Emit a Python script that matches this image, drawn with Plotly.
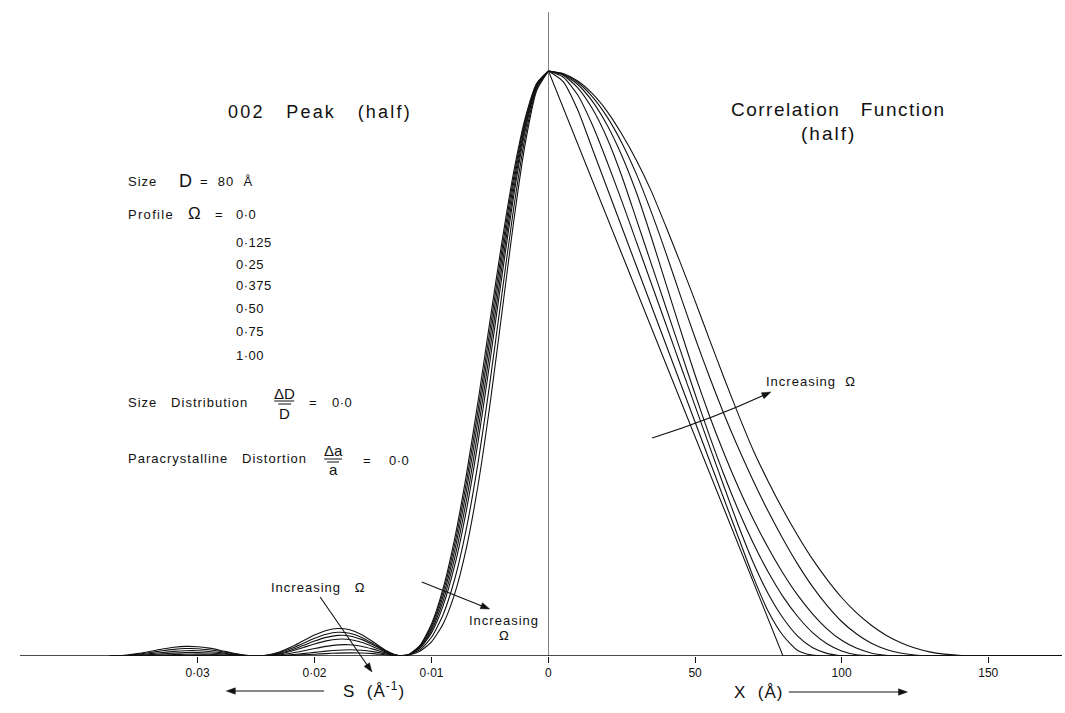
import plotly.graph_objects as go

W, H = 1065, 713

# ---------------- data ----------------
omega_values = ["0·0", "0·125", "0·25", "0·375", "0·50", "0·75", "1·00"]

# left half: 002 peak intensity vs S (1/Å)
s_values = [0, 0.001, 0.002, 0.003, 0.004, 0.005, 0.006, 0.007, 0.008, 0.009, 0.010,
            0.011, 0.012, 0.0125, 0.013, 0.014, 0.015, 0.016, 0.017, 0.018, 0.019,
            0.020, 0.021, 0.022, 0.023, 0.024, 0.025, 0.026, 0.027, 0.028, 0.029,
            0.030, 0.031, 0.032, 0.033, 0.034, 0.035, 0.036, 0.037, 0.0375]

peak_om_000 = [1, .979, .9187, .8244, .705, .5729, .438, .3118, .2025, .116, .0547, .0177, .0017, 0,
               .0015, .0109, .0243, .0367, .0449, .0471, .0437, .0358, .0256, .0153, .0069, .0017, 0,
               .0015, .005, .0095, .0134, .0159, .0164, .0149, .0119, .0081, .0045, .0017, .0002, 0]
peak_om_0125 = [1, .9777, .9138, .8151, .6917, .5573, .4224, .2983, .1923, .1095, .0515, .0167, .0018, .0002,
                .0014, .0098, .0215, .0322, .0388, .0405, .0372, .0302, .0213, .0127, .0056, .0014, 0,
                .0012, .0041, .0077, .0106, .0125, .0127, .0114, .009, .006, .0033, .0012, .0001, 0]
peak_om_025 = [1, .9763, .9088, .8054, .678, .5412, .4063, .2841, .1816, .1026, .048, .0157, .0018, .0003,
               .0013, .0088, .0193, .0284, .0343, .0352, .0318, .0255, .0178, .0104, .0045, .0011, 0,
               .0009, .0031, .0057, .0078, .009, .009, .0079, .0061, .004, .0021, .0008, .0001, 0]
peak_om_0375 = [1, .9748, .9031, .7945, .6624, .5229, .3877, .2678, .1691, .0945, .0438, .0143, .0018, .0004,
                .0012, .0075, .016, .0235, .0282, .0287, .0258, .0205, .0142, .0082, .0035, .0008, 0,
                .0006, .0021, .0039, .0052, .0058, .0057, .0049, .0037, .0024, .0012, .0004, 0, 0]
peak_om_050 = [1, .9732, .8973, .7832, .6463, .5038, .3685, .2508, .156, .0861, .0395, .0129, .0018, .0005,
               .0011, .0058, .0118, .0168, .0193, .019, .0165, .0128, .0086, .0048, .002, .0005, 0,
               .0004, .0012, .0022, .0029, .0032, .003, .0025, .0018, .0011, .0006, .0002, 0, 0]
peak_om_075 = [1, .9702, .8862, .7618, .6159, .4681, .3327, .2196, .1325, .071, .032, .0106, .0019, .0007,
               .0009, .004, .0075, .0098, .0106, .0099, .0083, .0062, .004, .0021, .0008, .0002, 0,
               .0002, .0005, .0008, .001, .001, .0009, .0007, .0005, .0003, .0001, 0, 0, 0]
peak_om_100 = [1, .9669, .8743, .7389, .5833, .4299, .2944, .1863, .1075, .0552, .0241, .0082, .0019, .0008,
               .0007, .0022, .004, .0051, .0054, .005, .0041, .003, .0019, .001, .0004, .0001, 0,
               0, .0001, .0002, .0002, .0002, .0002, .0001, 0, 0, 0, 0, 0, 0]

# right half: correlation function vs X (Å)
x_values = [0, 5, 10, 15, 20, 25, 30, 35, 40, 45, 50, 55, 60, 65, 70, 75, 80, 85, 90,
            95, 100, 105, 110, 115, 120, 125, 130, 135, 140, 145, 150, 175]

corr_om_000 = [1, .9375, .875, .8125, .75, .6875, .625, .5625, .5, .4375, .375, .3125, .25, .1875,
               .125, .0625, 0, 0, 0, 0, 0, 0, 0, 0, 0, 0, 0, 0, 0, 0, 0, 0]
corr_om_0125 = [1, .982, .9333, .8667, .8, .7333, .6667, .6, .5333, .4667, .4, .3333, .2667, .2,
                .1335, .076, .035, .0095, .0015, 0, 0, 0, 0, 0, 0, 0, 0, 0, 0, 0, 0, 0]
corr_om_025 = [1, .9897, .959, .9076, .845, .778, .708, .638, .568, .4975, .4275, .3575, .288,
               .22, .158, .106, .065, .034, .0145, .0045, .0005, 0, 0, 0, 0, 0, 0, 0, 0, 0, 0, 0]
corr_om_0375 = [1, .9928, .9713, .9354, .8851, .8206, .7463, .6716, .597, .5224, .4478, .3755, .308,
                .2465, .1915, .143, .1015, .0675, .0405, .021, .0085, .0022, .0003, 0, 0, 0, 0, 0, 0, 0, 0, 0]
corr_om_050 = [1, .9941, .9769, .948, .9077, .8557, .7922, .7171, .6374, .5578, .4804, .4095, .345,
               .286, .2325, .1845, .1415, .104, .0725, .0465, .0268, .0135, .0052, .0014, .0002, 0, 0, 0, 0, 0, 0, 0]
corr_om_075 = [1, .995, .9804, .9559, .9216, .8775, .8237, .76, .69, .616, .544, .476, .412,
               .353, .298, .247, .2, .157, .119, .0865, .059, .038, .0222, .0115, .005, .0017,
               .0004, 0, 0, 0, 0, 0]
corr_om_100 = [1, .9957, .9829, .9613, .9311, .8923, .8475, .7955, .735, .672, .607, .54, .474,
               .41, .35, .298, .25, .206, .166, .131, .1, .074, .053, .036, .023, .0135,
               .007, .0032, .0012, .0003, 0, 0]

peak_series = [peak_om_000, peak_om_0125, peak_om_025, peak_om_0375, peak_om_050, peak_om_075, peak_om_100]
corr_series = [corr_om_000, corr_om_0125, corr_om_025, corr_om_0375, corr_om_050, corr_om_075, corr_om_100]

s_ticks = [0.01, 0.02, 0.03]
s_tick_text = ["0·01", "0·02", "0·03"]
x_ticks = [0, 50, 100, 150]
x_tick_text = ["0", "50", "100", "150"]

# ---------------- layout geometry (pixels) ----------------
X_LEFT, X_ZERO, X_RIGHT = 17, 547, 1062
Y_BASE, Y_TOP = 656, 12
PX_PER_S = 11730.0
PX_PER_X = 2.94
PX_PER_Y = 585.0

FONT = "Liberation Sans, Arial, sans-serif"
INK = "#111111"

fig = go.Figure()

for i, vals in enumerate(peak_series):
    fig.add_trace(go.Scatter(x=s_values, y=vals, xaxis="x", yaxis="y", mode="lines",
                             line=dict(color=INK, width=1.1, shape="spline", smoothing=0.6),
                             name="Ω = " + omega_values[i], showlegend=False, hoverinfo="skip"))
for i, vals in enumerate(corr_series):
    fig.add_trace(go.Scatter(x=x_values, y=vals, xaxis="x2", yaxis="y", mode="lines",
                             line=dict(color=INK, width=1.1,
                                       shape="linear" if i == 0 else "spline", smoothing=0.6),
                             name="Ω = " + omega_values[i], showlegend=False, hoverinfo="skip"))


def px(x):
    return x / W


def py(y):
    return 1 - y / H


y_max = (Y_BASE - Y_TOP) / PX_PER_Y

fig.update_layout(
    width=W, height=H, autosize=False,
    margin=dict(l=0, r=0, t=0, b=0),
    paper_bgcolor="white", plot_bgcolor="white",
    font=dict(family=FONT, color=INK),
    xaxis=dict(domain=[px(X_LEFT), px(X_ZERO)], range=[(X_ZERO - X_LEFT) / PX_PER_S, 0],
               tickvals=s_ticks, ticktext=s_tick_text, ticks="outside", ticklen=6,
               tickcolor=INK, tickwidth=1, showgrid=False, zeroline=False, showline=False,
               tickfont=dict(size=12, family=FONT, color=INK), anchor="y", fixedrange=True),
    xaxis2=dict(domain=[px(X_ZERO), px(X_RIGHT)], range=[0, (X_RIGHT - X_ZERO) / PX_PER_X],
                tickvals=x_ticks, ticktext=x_tick_text, ticks="outside", ticklen=6,
                tickcolor=INK, tickwidth=1, showgrid=False, zeroline=False, showline=False,
                tickfont=dict(size=12, family=FONT, color=INK), anchor="y", fixedrange=True),
    yaxis=dict(domain=[py(Y_BASE), py(Y_TOP)], range=[0, y_max], visible=False, fixedrange=True),
    showlegend=False,
)

# baseline and central vertical line
fig.add_shape(type="line", xref="paper", yref="y", x0=px(X_LEFT), x1=px(X_RIGHT), y0=0, y1=0,
              line=dict(color=INK, width=1.4))
fig.add_shape(type="line", xref="x2", yref="y", x0=0, x1=0, y0=-7 / PX_PER_Y, y1=y_max,
              line=dict(color=INK, width=1))


def text(t, x, y, size=13, anchor="left", spacing=1.0):
    fig.add_annotation(text='<span style="letter-spacing:%.1fpx">%s</span>' % (spacing, t),
                       x=px(x), y=py(y), xref="paper", yref="paper", showarrow=False,
                       xanchor=anchor, yanchor="middle", font=dict(size=size, family=FONT, color=INK))


def arrow(x0, y0, x1, y1, width=1.1, head=9.0, half=3.2, bend=0.0):
    dx, dy = x1 - x0, y1 - y0
    n = (dx * dx + dy * dy) ** 0.5
    cx, cy = (x0 + x1) / 2 + bend * (-dy / n), (y0 + y1) / 2 + bend * (dx / n)
    tx, ty = x1 - cx, y1 - cy
    tn = (tx * tx + ty * ty) ** 0.5
    ux, uy = tx / tn, ty / tn
    bx, by = x1 - ux * head, y1 - uy * head
    ex, ey = bx + ux * 2, by + uy * 2
    line_path = "M %f %f Q %f %f %f %f" % (px(x0), py(y0), px(cx), py(cy), px(ex), py(ey))
    fig.add_shape(type="path", xref="paper", yref="paper", path=line_path,
                  line=dict(color=INK, width=width))
    pts = [(x1, y1), (bx - uy * half, by + ux * half), (bx + uy * half, by - ux * half)]
    path = "M %f %f L %f %f L %f %f Z" % tuple(v for p in pts for v in (px(p[0]), py(p[1])))
    fig.add_shape(type="path", xref="paper", yref="paper", path=path,
                  fillcolor=INK, line=dict(color=INK, width=0.5))


def hline(x0, x1, y, width=1.0):
    fig.add_shape(type="line", xref="paper", yref="paper", x0=px(x0), x1=px(x1), y0=py(y), y1=py(y),
                  line=dict(color=INK, width=width))


# titles
text("002&nbsp;&nbsp;&nbsp;Peak&nbsp;&nbsp;&nbsp;(half)", 318, 112, size=18, anchor="center", spacing=2.2)
text("Correlation&nbsp;&nbsp;&nbsp;Function", 838, 110, size=19, anchor="center", spacing=1.5)
text("(half)", 828, 133, size=19, anchor="center", spacing=2.0)

# parameter block
text("Size", 123, 182, 13)
text("D", 174, 181, 18, spacing=0)
text("=&nbsp;&nbsp;80&nbsp;&nbsp;Å", 196, 182, 13)
text("Profile", 123, 215, 13, spacing=1.3)
text("Ω", 184, 214, 17, spacing=0)
text("=", 211, 215, 13)
text(omega_values[0], 232, 215, 13, spacing=0.5)
for i, yy in enumerate([242, 264, 286, 308, 331, 355]):
    text(omega_values[i + 1], 232, yy, 13, spacing=0.5)

text("Size&nbsp;&nbsp;&nbsp;Distribution", 123, 402, 13)
text("ΔD", 282, 393, 15, anchor="center", spacing=0)
hline(272, 292, 401)
hline(276, 289, 404)
text("D", 282, 413, 15, anchor="center", spacing=0)
text("=", 305, 402, 13)
text("0·0", 328, 402, 13, spacing=0.5)

text("Paracrystalline&nbsp;&nbsp;&nbsp;Distortion", 123, 459, 13)
text("Δa", 331, 451, 15, anchor="center", spacing=0)
hline(322, 340, 459)
hline(325, 337, 462)
text("a", 331, 469, 15, anchor="center", spacing=0)
text("=", 359, 460, 13)
text("0·0", 385, 460, 13, spacing=0.5)

# increasing-omega markers
text("Increasing&nbsp;&nbsp;Ω", 763, 381, 13)
arrow(651, 438, 770, 392, bend=4)
text("Increasing&nbsp;&nbsp;&nbsp;Ω", 267, 587, 13)
arrow(318, 597, 370, 672)
arrow(420, 582, 488, 609)
text("Increasing", 502, 620, 13, anchor="center")
text("Ω", 502, 635, 13, anchor="center", spacing=0)

# axis names
text("S&nbsp;&nbsp;(Å<sup>-1</sup>)", 372, 690, 17, anchor="center", spacing=1.0)
arrow(322, 691, 224, 691)
text("X&nbsp;&nbsp;(Å)", 758, 692, 17, anchor="center", spacing=1.0)
arrow(788, 692, 907, 692)

fig.write_html("out.html")
